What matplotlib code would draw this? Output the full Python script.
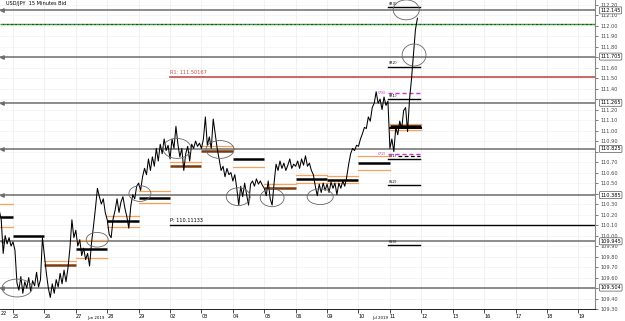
import numpy as np
import matplotlib.pyplot as plt
from matplotlib.patches import Ellipse

plt.rcParams['font.family'] = ['DejaVu Sans']

# price sampled every 1/16 day, x = trading days counted from Jun 25
start_day = -0.4375
step = 1 / 16
price = [
    110.24, 110.15, 109.83, 110.00, 109.92, 109.98, 109.90,
    109.94, 109.86, 109.55, 109.48, 109.61, 109.45, 109.56, 109.50, 109.60, 109.47, 109.57, 109.52, 109.65, 109.51, 109.58, 109.98,
    109.81, 109.64, 109.50, 109.41, 109.54, 109.45, 109.58, 109.51, 109.64, 109.54, 109.67, 109.56, 109.69, 109.88, 110.15, 109.98,
    110.05, 109.90, 109.96, 109.81, 109.88, 109.77, 109.83, 109.71, 109.93, 110.09, 110.26, 110.45, 110.37, 110.30, 110.35, 110.22,
    110.15, 110.01, 109.98, 110.16, 110.24, 110.35, 110.22, 110.32, 110.37, 110.26, 110.18, 110.07, 110.28, 110.39, 110.35, 110.47,
    110.50, 110.43, 110.56, 110.64, 110.58, 110.73, 110.62, 110.75, 110.66, 110.83, 110.71, 110.87, 110.78, 110.92, 110.81, 110.86,
    110.73, 110.92, 110.83, 111.04, 110.87, 110.75, 110.83, 110.62, 110.78, 110.85, 110.71, 110.87, 110.83, 110.90, 110.85, 110.88,
    110.83, 110.92, 111.13, 110.86, 110.94, 110.83, 111.11, 110.97, 110.83, 110.73, 110.62, 110.66, 110.56, 110.64, 110.58, 110.60,
    110.52, 110.58, 110.45, 110.29, 110.47, 110.37, 110.50, 110.39, 110.29, 110.49, 110.52, 110.47, 110.54, 110.49, 110.52, 110.48,
    110.45, 110.38, 110.52, 110.35, 110.29, 110.50, 110.68, 110.62, 110.71, 110.64, 110.69, 110.62, 110.67, 110.73, 110.64, 110.68,
    110.66, 110.71, 110.64, 110.73, 110.67, 110.76, 110.66, 110.69, 110.62, 110.58, 110.47, 110.38, 110.49, 110.41, 110.50, 110.43,
    110.49, 110.41, 110.51, 110.45, 110.50, 110.39, 110.50, 110.45, 110.52, 110.47, 110.56, 110.68, 110.78, 110.83, 110.81, 110.86,
    110.85, 110.92, 110.97, 111.03, 111.02, 111.13, 111.09, 111.22, 111.26, 111.37, 111.26, 111.30, 111.20, 111.32, 111.24, 111.28,
    110.83, 110.92, 110.80, 111.03, 110.96, 111.09, 111.02, 111.19, 111.22, 110.99, 111.30, 111.49, 111.72, 111.96, 112.07,
]

# daily pivot bars (day -1 is the partial day on the left)
pivot_day = [-1, 0, 1, 2, 3, 4, 5, 6, 7, 8, 9, 10, 11, 12]
pivot = [110.18, 110.00, 109.72, 109.87, 110.14, 110.36, 110.66, 110.81, 110.73, 110.45, 110.54, 110.53, 110.69, 111.04]
pivot_dark = [False, False, True, False, False, False, True, True, False, True, False, False, False, False]
band_hi = [110.30, np.nan, 109.76, 109.96, 110.19, 110.42, 110.70, 110.85, np.nan, 110.49, 110.58, 110.57, 110.76, 111.06]
band_lo = [110.08, np.nan, np.nan, 109.79, 110.08, 110.31, np.nan, np.nan, 110.65, np.nan, 110.50, 110.50, 110.62, 111.01]

# current-day pivot levels
rs_names = ['(R3)', '(R2)', '(R1)', '(S1)', '(S2)', '(S3)']
rs_levels = [112.18, 111.61, 111.30, 110.73, 110.48, 109.91]
mid_names = ['(78)', '(72)']
mid_levels = [111.36, 110.78]

# horizontal levels with price boxes
grey_levels = [112.145, 111.705, 111.265, 110.825, 110.385, 109.945, 109.504]
green_level = 112.02
weekly_r1 = 111.51
weekly_p = 110.10

# circled areas: day, price, width (days), height (price)
circle_x = [0.13, 2.68, 4.04, 5.22, 6.59, 7.17, 8.25, 9.78, 12.77, 12.52]
circle_y = [109.50, 109.96, 110.40, 110.83, 110.82, 110.37, 110.36, 110.37, 111.72, 112.15]
circle_w = [0.96, 0.70, 0.70, 0.89, 0.89, 0.76, 0.76, 0.83, 0.76, 0.83]
circle_h = [0.17, 0.14, 0.15, 0.19, 0.17, 0.17, 0.17, 0.15, 0.21, 0.19]

day_labels = ['25', '26', '27', '28', '29', '02', '03', '04', '05', '06',
              '09', '10', '11', '12', '13', '16', '17', '18', '19']

x0, x1 = -0.414, 18.53
y0, y1 = 109.296, 112.244

fig = plt.figure(figsize=(6.25, 3.21), dpi=100)
ax = fig.add_axes([0, 0.036, 0.952, 0.964])
ax.set_xlim(x0, x1)
ax.set_ylim(y0, y1)

fs = 3.6
orange = '#f7a35c'
brown = '#7a3b10'

# faint grid
for d in range(19):
    ax.axvline(d, color='#ececec', lw=0.5, zorder=0)
for p in np.arange(109.3, 112.25, 0.1):
    ax.axhline(p, color='#f2f2f2', lw=0.5, zorder=0)

# grey levels with boxes on the right
for lv in grey_levels:
    ax.axhline(lv, color='#6e6e6e', lw=1.1, zorder=1)
    ax.plot(x0 + 0.05, lv, marker='<', color='#6e6e6e', ms=2.5, zorder=2, clip_on=False)
    ax.annotate(f'{lv:.3f}', xy=(x1, lv), xycoords='data', xytext=(x1 + 0.17, lv),
                fontsize=fs, va='center', ha='left', annotation_clip=False, zorder=6,
                bbox=dict(boxstyle='round,pad=0.2', fc='white', ec='#555555', lw=0.5))

ax.axhline(green_level, color='#2ca02c', lw=1.0, ls=(0, (1.5, 1.5)), zorder=1)
ax.axhline(green_level, color='#1a4d1a', lw=1.0, ls=(1.5, (1.5, 1.5)), zorder=1)

ax.plot([5, x1], [weekly_r1, weekly_r1], color='#c0504d', lw=1.2, zorder=1)
ax.text(5.0, weekly_r1 + 0.02, 'R1: 111.50167', fontsize=fs, color='#c0504d', va='bottom')
ax.plot([5, x1], [weekly_p, weekly_p], color='black', lw=1.0, zorder=1)
ax.text(5.0, weekly_p + 0.02, 'P: 110.11133', fontsize=fs, color='black', va='bottom')

# daily pivots and bands
for d, pv, dark, hi, lo in zip(pivot_day, pivot, pivot_dark, band_hi, band_lo):
    a = max(d, x0)
    b = d + 1
    ax.plot([a, b], [pv, pv], color=brown if dark else 'black', lw=1.8, solid_capstyle='butt', zorder=3)
    if not np.isnan(hi):
        ax.plot([a, b], [hi, hi], color=orange, lw=0.9, zorder=2)
    if not np.isnan(lo):
        ax.plot([a, b], [lo, lo], color=orange, lw=0.9, zorder=2)
ax.plot([12, 13], [111.02, 111.02], color='black', lw=1.4, zorder=3)

for name, lv in zip(rs_names, rs_levels):
    ax.plot([11.95, 12.97], [lv, lv], color='black', lw=1.0, zorder=3)
    ax.text(11.97, lv + 0.01, name, fontsize=fs - 0.6, va='bottom')
for name, lv in zip(mid_names, mid_levels):
    ax.plot([11.95, 12.97], [lv, lv], color='#cc33cc', lw=1.0, ls=(0, (3, 2)), zorder=3)
    ax.text(11.6, lv, name, fontsize=fs - 0.6, color='#cc33cc', va='center')
ax.plot([12.25, 12.97], [110.76, 110.76], color='black', lw=0.9, ls=(0, (3, 2)), zorder=3)

# price line
t = start_day + step * np.arange(len(price))
ax.plot(t, price, color='black', lw=0.75, zorder=4)

for cx, cy, w, h in zip(circle_x, circle_y, circle_w, circle_h):
    ax.add_patch(Ellipse((cx, cy), w, h, fill=False, ec='#666666', lw=0.6, zorder=5))

# axes: hide tick labels that sit under a price box
yt = np.round(np.arange(109.3, 112.21, 0.1), 2)
ylab = [f'{v:.2f}' if min(abs(v - g) for g in grey_levels) > 0.037 else '' for v in yt]
ax.yaxis.tick_right()
ax.set_yticks(yt)
ax.set_yticklabels(ylab, fontsize=fs, color='#444444')
ax.tick_params(axis='y', length=2, width=0.5, pad=2, colors='#444444')
ax.set_xticks(range(19))
ax.set_xticklabels(day_labels, fontsize=fs, ha='left')
ax.tick_params(axis='x', length=3, width=0.5, pad=0.5, direction='out')
for s in ['top', 'left']:
    ax.spines[s].set_visible(False)
ax.spines['right'].set_color('#888888')
ax.spines['bottom'].set_linewidth(0.6)

ax.text(x0 + 0.02, y0 - 0.012, '22', fontsize=fs, va='top', clip_on=False)
fig.text(87 / 625, 0.003, 'Jun 2019', fontsize=fs - 0.8, va='bottom')
fig.text(372 / 625, 0.003, 'Jul 2019', fontsize=fs - 0.8, va='bottom')

ax.text(x0 + 0.18, 112.19, 'USD/JPY  15 Minutes Bid', fontsize=fs, va='bottom')

fig.savefig('out.png', dpi=100)
